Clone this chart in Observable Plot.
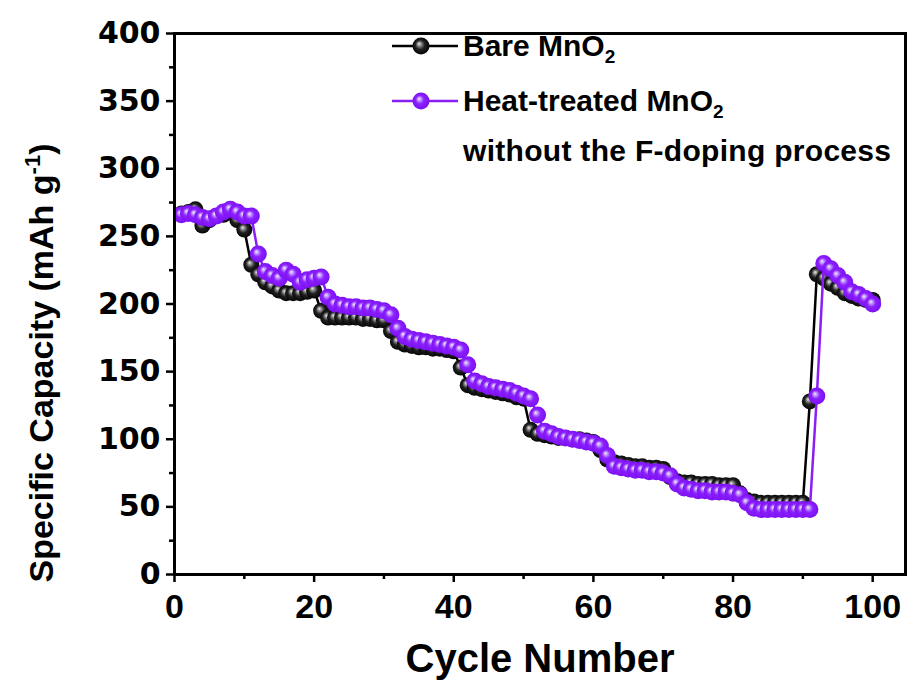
<!DOCTYPE html>
<html>
<head>
<meta charset="utf-8">
<script src="https://cdn.jsdelivr.net/npm/d3@7"></script>
<script src="https://cdn.jsdelivr.net/npm/@observablehq/plot@0.6"></script>
<style>
  html, body { margin: 0; padding: 0; background: #fff; }
  #chart { width: 910px; height: 683px; }
</style>
</head>
<body>
<div id="chart"></div>
<script>
// ---- data ----
const seriesNames = ["Bare MnO2", "Heat-treated MnO2 without the F-doping process"];
const xTicks = [0, 20, 40, 60, 80, 100];
const xMinorTicks = [10, 30, 50, 70, 90];
const yTicks = [0, 50, 100, 150, 200, 250, 300, 350, 400];
const yMinorTicks = [25, 75, 125, 175, 225, 275, 325, 375];

const bareCapacity = [
  267, 268, 270, 258, 262, 265, 266, 268, 262, 255,
  229,
  222, 216, 213, 210, 208, 208, 208, 209, 210,
  195,
  190, 190, 190, 190, 190, 189, 189, 188, 188,
  180,
  172, 170, 169, 168, 168, 167, 167, 166, 165,
  153,
  140, 138, 137, 136, 135, 134, 133, 131, 130,
  107,
  104, 103, 102, 101, 101, 100, 100, 99, 98,
  92,
  85, 83, 82, 81, 80, 80, 79, 79, 78,
  72,
  69, 68, 68, 67, 67, 67, 66, 66, 66,
  60,
  55, 54, 53, 53, 53, 53, 53, 53, 53,
  128,
  222, 219, 215, 212, 208, 206, 204, 203, 203
];

const heatCapacity = [
  266, 267, 266, 264, 263, 265, 268, 270, 268, 265, 265,
  237,
  224, 221, 219, 225, 222, 216, 218, 219, 220,
  205,
  200, 199, 198, 198, 197, 197, 196, 195, 192,
  182,
  176, 174, 173, 172, 171, 170, 169, 168, 166,
  155,
  143, 141, 139, 138, 137, 136, 134, 132, 130,
  118,
  106, 104, 102, 101, 100, 99, 98, 97, 95,
  88,
  80, 79, 78, 77, 77, 76, 76, 75, 73,
  67,
  64, 63, 62, 62, 61, 61, 61, 60, 59,
  53,
  49, 48, 48, 48, 48, 48, 48, 48, 48,
  132,
  230, 226, 221, 216, 209, 207, 204, 200
];

const bareData = bareCapacity.map((v, i) => ({cycle: i + 1, cap: v}));
const heatData = heatCapacity.map((v, i) => ({cycle: i + 1, cap: v}));

const PURPLE = "#8a1ff5";
const BARE_TOKEN = "#010101";
const HEAT_TOKEN = "#020202";

const plot = Plot.plot({
  width: 910,
  height: 683,
  marginLeft: 174,
  marginRight: 5,
  marginTop: 33,
  marginBottom: 109,
  style: {background: "#fff", color: "#000", overflow: "visible"},
  x: {domain: [0, 104.7]},
  y: {domain: [0, 400]},
  marks: [
    Plot.axisX({ticks: xMinorTicks, tickSize: 5, text: null, strokeWidth: 2.5, label: null}),
    Plot.axisX({ticks: xTicks, tickSize: 8, tickPadding: 11, strokeWidth: 2.5, label: null,
      fontSize: 34, fontWeight: "bold", fontFamily: "Liberation Sans, Arial, sans-serif"}),
    Plot.axisY({ticks: yMinorTicks, tickSize: 5, text: null, strokeWidth: 2.5, label: null}),
    Plot.axisY({ticks: yTicks, tickSize: 8, tickPadding: 6, strokeWidth: 2.5, label: null,
      fontSize: 30, fontWeight: "bold", fontFamily: "DejaVu Sans, sans-serif"}),
    Plot.line(bareData, {x: "cycle", y: "cap", stroke: "#000", strokeWidth: 2.5}),
    Plot.dot(bareData, {x: "cycle", y: "cap", r: 8, fill: BARE_TOKEN, stroke: "none"}),
    Plot.line(heatData, {x: "cycle", y: "cap", stroke: PURPLE, strokeWidth: 2.5}),
    Plot.dot(heatData, {x: "cycle", y: "cap", r: 8.5, fill: HEAT_TOKEN, stroke: "none"}),
    Plot.frame({stroke: "#000", strokeWidth: 3})
  ]
});

document.getElementById("chart").appendChild(plot);

// ---- gradients for the shaded balls ----
const svg = d3.select(plot);
const defs = svg.insert("defs", ":first-child");
function ballGradient(id, stops) {
  const g = defs.append("radialGradient").attr("id", id)
    .attr("cx", "50%").attr("cy", "50%").attr("r", "55%")
    .attr("fx", "38%").attr("fy", "36%");
  stops.forEach(([o, c]) => g.append("stop").attr("offset", o).attr("stop-color", c));
}
ballGradient("gBare", [["0%", "#eeeeee"], ["18%", "#9a9a9a"], ["50%", "#222"], ["100%", "#000"]]);
ballGradient("gHeat", [["0%", "#f5ecff"], ["18%", "#c59cff"], ["45%", "#8c22ff"], ["100%", "#7a0cf0"]]);
svg.selectAll(`g[fill="${BARE_TOKEN}"]`).attr("fill", "url(#gBare)");
svg.selectAll(`g[fill="${HEAT_TOKEN}"]`).attr("fill", "url(#gHeat)");

// ---- axis titles ----
const FONT = "Liberation Sans, Arial, sans-serif";
svg.append("text")
  .attr("x", 540).attr("y", 672)
  .attr("text-anchor", "middle")
  .attr("font-family", FONT).attr("font-size", 40).attr("font-weight", "bold")
  .text("Cycle Number");

const yt = svg.append("text")
  .attr("transform", "translate(53,363) rotate(-90)")
  .attr("text-anchor", "middle")
  .attr("font-family", FONT).attr("font-size", 34).attr("font-weight", "bold");
yt.append("tspan").text("Specific Capacity (mAh g");
yt.append("tspan").attr("font-size", 22).attr("dy", -13).text("-1");
yt.append("tspan").attr("dy", 13).text(")");

// ---- legend ----
const legend = svg.append("g").attr("font-family", FONT).attr("font-weight", "bold")
  .attr("font-size", 30).attr("text-anchor", "start");
function legendRow(yc, color, grad, name) {
  legend.append("line").attr("x1", 392).attr("x2", 458).attr("y1", yc).attr("y2", yc)
    .attr("stroke", color).attr("stroke-width", 2.5);
  legend.append("circle").attr("cx", 421).attr("cy", yc).attr("r", 8.5).attr("fill", `url(#${grad})`);
  const t = legend.append("text").attr("x", 463).attr("y", yc + 10);
  t.append("tspan").text(name);
  t.append("tspan").attr("font-size", 19).attr("dy", 7).text("2");
}
legendRow(46, "#000", "gBare", "Bare MnO");
legendRow(101, PURPLE, "gHeat", "Heat-treated MnO");
legend.append("text").attr("x", 463).attr("y", 161).attr("textLength", 428).text("without the F-doping process");
</script>
</body>
</html>
